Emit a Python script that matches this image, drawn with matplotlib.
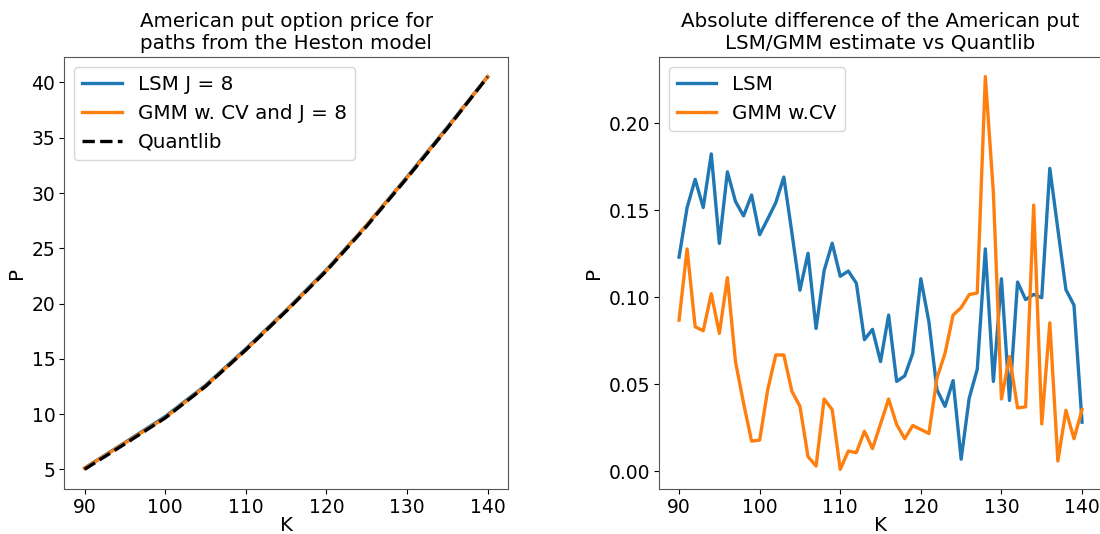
import matplotlib
matplotlib.use("Agg")
import matplotlib.pyplot as plt
import numpy as np

# strike grid and prices (left panel), read every 5 in K
K_coarse = [90, 95, 100, 105, 110, 115, 120, 125, 130, 135, 140]
P_quantlib = [5.0, 7.3, 9.65, 12.5, 15.8, 19.3, 22.95, 27.0, 31.35, 35.85, 40.5]
P_lsm = [5.12, 7.43, 9.78, 12.6, 15.91, 19.39, 23.06, 27.1, 31.46, 35.95, 40.53]
P_gmm = [5.09, 7.38, 9.67, 12.53, 15.81, 19.33, 22.97, 27.09, 31.39, 35.87, 40.52]

# absolute differences (right panel), K = 90..140
K = list(range(90, 141))
diff_lsm = [0.123, 0.1515, 0.1677, 0.1515, 0.1823, 0.1309, 0.172, 0.155, 0.1467, 0.1587,
            0.1359, 0.1449, 0.1543, 0.169, 0.137, 0.104, 0.1252, 0.082, 0.1153, 0.131,
            0.112, 0.115, 0.108, 0.0756, 0.0815, 0.063, 0.0897, 0.0516, 0.0548, 0.0678,
            0.1106, 0.0858, 0.0468, 0.0373, 0.0521, 0.0069, 0.042, 0.0586, 0.1277, 0.0516,
            0.1106, 0.0407, 0.1087, 0.0986, 0.1016, 0.0997, 0.174, 0.139, 0.1043, 0.0954,
            0.0282]
diff_gmm = [0.0868, 0.1277, 0.083, 0.0807, 0.102, 0.0792, 0.1112, 0.063, 0.0392, 0.0173,
            0.0179, 0.0468, 0.0668, 0.0668, 0.0459, 0.0373, 0.0084, 0.003, 0.0415, 0.0354,
            0.0011, 0.0116, 0.0107, 0.023, 0.013, 0.0272, 0.0415, 0.0268, 0.0187, 0.0263,
            0.024, 0.0217, 0.0535, 0.0678, 0.0897, 0.094, 0.1015, 0.1024, 0.2267, 0.16,
            0.0415, 0.0659, 0.0364, 0.037, 0.1529, 0.0272, 0.0853, 0.0059, 0.035, 0.0187,
            0.0354]

plt.rcParams['font.family'] = 'DejaVu Sans'
tick_fs = 13.5
text_fs = 14.3

fig = plt.figure(figsize=(11, 5.34), dpi=100)
ax1 = fig.add_axes([0.0586, 0.0843, 0.403, 0.809])
ax2 = fig.add_axes([0.599, 0.0843, 0.403, 0.809])

ax1.plot(K_coarse, P_lsm, color='#1f77b4', lw=2.4, label='LSM J = 8')
ax1.plot(K_coarse, P_gmm, color='#ff7f0e', lw=2.4, label='GMM w. CV and J = 8')
ax1.plot(K_coarse, P_quantlib, 'k--', lw=2.4, label='Quantlib')
ax1.set_title('American put option price for\npaths from the Heston model', fontsize=text_fs)
ax1.set_xlabel('K', fontsize=text_fs, labelpad=-1)
ax1.set_ylabel('P', fontsize=text_fs)
ax1.legend(loc='upper left', fontsize=text_fs)

ax2.plot(K, diff_lsm, color='#1f77b4', lw=2.4, label='LSM')
ax2.plot(K, diff_gmm, color='#ff7f0e', lw=2.4, label='GMM w.CV')
ax2.set_title('Absolute difference of the American put\nLSM/GMM estimate vs Quantlib', fontsize=text_fs)
ax2.set_xlabel('K', fontsize=text_fs, labelpad=-1)
ax2.set_ylabel('P', fontsize=text_fs)
ax2.legend(loc='upper left', fontsize=text_fs)

for ax in (ax1, ax2):
    ax.tick_params(labelsize=tick_fs, pad=3)
    for s in ax.spines.values():
        s.set_color('#555555')

fig.savefig('out.png', dpi=100)
